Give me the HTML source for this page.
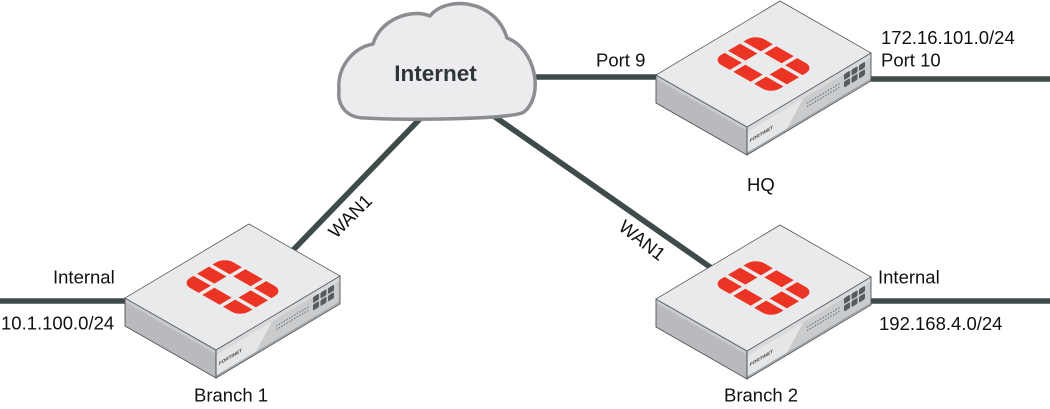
<!DOCTYPE html>
<html>
<head>
<meta charset="utf-8">
<style>
html,body{margin:0;padding:0;background:#fff;}
svg{display:block;}
text{font-family:"Liberation Sans",Arial,sans-serif;}
</style>
</head>
<body>
<svg width="1050" height="409" viewBox="0 0 1050 409" xmlns="http://www.w3.org/2000/svg">
<rect width="1050" height="409" fill="#ffffff"/>

<!-- connectors -->
<g stroke="#3e4b4a" stroke-width="5.6" fill="none" stroke-linecap="butt">
  <line x1="0" y1="301" x2="140" y2="301"/>
  <line x1="860" y1="301" x2="1050" y2="301"/>
  <line x1="860" y1="79" x2="1050" y2="79"/>
  <line x1="528" y1="77" x2="668" y2="77"/>
  <line x1="285" y1="258.5" x2="425" y2="113.6"/>
  <line x1="490" y1="113.4" x2="720" y2="274"/>
</g>

<!-- cloud -->
<path d="M 365,118 C 347,118 337,106 339,90 C 337,68 352,48 373,44 C 380,20 410,8 430,16 C 445,-4 495,-2 507,38 C 535,48 545,95 524,112 C 510,120 400,120 365,118 Z" fill="#ececee" stroke="#8b8e91" stroke-width="3.5" stroke-linejoin="round"/>
<text x="435.5" y="81" font-size="22.5" font-weight="bold" fill="#2d353a" text-anchor="middle">Internet</text>

<!-- Device: Branch 1 -->
<g transform="translate(125,298)">
  <polygon points="0,0 91,52 91,80 0,28" fill="#b8babd"/>
  <polygon points="0,0 91,52 91,56 0,4" fill="#c9cbcd"/>
  <g transform="matrix(1,-0.5968,0,1,91,52)">
    <rect x="0" y="0" width="124" height="28" fill="#c9cbcd"/>
    <rect x="0" y="0" width="124" height="5" fill="#d8d9db"/>
    <polygon points="0,5 56,5 38,28 0,28" fill="#e5e6e7"/>
    <rect x="0" y="25.5" width="124" height="2.5" fill="#a5a8ab"/>
    <text x="3" y="17" font-size="4.6" font-weight="bold" fill="#3a3d40">FORTINET</text>
    <line x1="60" y1="12" x2="93" y2="12" stroke="#6b6f73" stroke-width="1.2" stroke-dasharray="1.3 1.3"/>
    <line x1="60" y1="15.5" x2="93" y2="15.5" stroke="#6b6f73" stroke-width="1.2" stroke-dasharray="1.3 1.3"/>
    <g fill="#565b60">
      <rect x="97" y="5" width="6" height="6" rx="1.3"/>
      <rect x="104.5" y="5" width="6" height="6" rx="1.3"/>
      <rect x="112" y="5" width="6" height="6" rx="1.3"/>
      <rect x="97" y="12.5" width="6" height="6" rx="1.3"/>
      <rect x="104.5" y="12.5" width="6" height="6" rx="1.3"/>
      <rect x="112" y="12.5" width="6" height="6" rx="1.3"/>
    </g>
    <rect x="0" y="0" width="124" height="28" fill="none" stroke="#4d5154" stroke-width="0.9"/>
  </g>
  <polygon points="0,0 91,52 91,80 0,28" fill="none" stroke="#4d5154" stroke-width="0.9"/>
  <g transform="matrix(0.8667,0.4952,-0.8611,0.5139,124,-74)">
    <rect width="105" height="144" fill="#e9eaec" stroke="#55595c" stroke-width="0.9"/>
    <g fill="#ec3425">
      <path d="M 28.5,47 L 38.5,47 L 38.5,61 L 18.5,61 L 18.5,57 A 10 10 0 0 1 28.5,47 Z"/>
      <rect x="42.5" y="47" width="20" height="14"/>
      <path d="M 66.5,47 L 76.5,47 A 10 10 0 0 1 86.5,57 L 86.5,61 L 66.5,61 Z"/>
      <rect x="18.5" y="65" width="20" height="14"/>
      <rect x="66.5" y="65" width="20" height="14"/>
      <path d="M 18.5,83 L 38.5,83 L 38.5,97 L 28.5,97 A 10 10 0 0 1 18.5,87 Z"/>
      <rect x="42.5" y="83" width="20" height="14"/>
      <path d="M 66.5,83 L 86.5,83 L 86.5,87 A 10 10 0 0 1 76.5,97 L 66.5,97 Z"/>
    </g>
  </g>
</g>

<!-- Device: HQ -->
<g transform="translate(656,75)">
  <polygon points="0,0 91,52 91,80 0,28" fill="#b8babd"/>
  <polygon points="0,0 91,52 91,56 0,4" fill="#c9cbcd"/>
  <g transform="matrix(1,-0.5968,0,1,91,52)">
    <rect x="0" y="0" width="124" height="28" fill="#c9cbcd"/>
    <rect x="0" y="0" width="124" height="5" fill="#d8d9db"/>
    <polygon points="0,5 56,5 38,28 0,28" fill="#e5e6e7"/>
    <rect x="0" y="25.5" width="124" height="2.5" fill="#a5a8ab"/>
    <text x="3" y="17" font-size="4.6" font-weight="bold" fill="#3a3d40">FORTINET</text>
    <line x1="60" y1="12" x2="93" y2="12" stroke="#6b6f73" stroke-width="1.2" stroke-dasharray="1.3 1.3"/>
    <line x1="60" y1="15.5" x2="93" y2="15.5" stroke="#6b6f73" stroke-width="1.2" stroke-dasharray="1.3 1.3"/>
    <g fill="#565b60">
      <rect x="97" y="5" width="6" height="6" rx="1.3"/>
      <rect x="104.5" y="5" width="6" height="6" rx="1.3"/>
      <rect x="112" y="5" width="6" height="6" rx="1.3"/>
      <rect x="97" y="12.5" width="6" height="6" rx="1.3"/>
      <rect x="104.5" y="12.5" width="6" height="6" rx="1.3"/>
      <rect x="112" y="12.5" width="6" height="6" rx="1.3"/>
    </g>
    <rect x="0" y="0" width="124" height="28" fill="none" stroke="#4d5154" stroke-width="0.9"/>
  </g>
  <polygon points="0,0 91,52 91,80 0,28" fill="none" stroke="#4d5154" stroke-width="0.9"/>
  <g transform="matrix(0.8667,0.4952,-0.8611,0.5139,124,-74)">
    <rect width="105" height="144" fill="#e9eaec" stroke="#55595c" stroke-width="0.9"/>
    <g fill="#ec3425">
      <path d="M 28.5,47 L 38.5,47 L 38.5,61 L 18.5,61 L 18.5,57 A 10 10 0 0 1 28.5,47 Z"/>
      <rect x="42.5" y="47" width="20" height="14"/>
      <path d="M 66.5,47 L 76.5,47 A 10 10 0 0 1 86.5,57 L 86.5,61 L 66.5,61 Z"/>
      <rect x="18.5" y="65" width="20" height="14"/>
      <rect x="66.5" y="65" width="20" height="14"/>
      <path d="M 18.5,83 L 38.5,83 L 38.5,97 L 28.5,97 A 10 10 0 0 1 18.5,87 Z"/>
      <rect x="42.5" y="83" width="20" height="14"/>
      <path d="M 66.5,83 L 86.5,83 L 86.5,87 A 10 10 0 0 1 76.5,97 L 66.5,97 Z"/>
    </g>
  </g>
</g>

<!-- Device: Branch 2 -->
<g transform="translate(656,299)">
  <polygon points="0,0 91,52 91,80 0,28" fill="#b8babd"/>
  <polygon points="0,0 91,52 91,56 0,4" fill="#c9cbcd"/>
  <g transform="matrix(1,-0.5968,0,1,91,52)">
    <rect x="0" y="0" width="124" height="28" fill="#c9cbcd"/>
    <rect x="0" y="0" width="124" height="5" fill="#d8d9db"/>
    <polygon points="0,5 56,5 38,28 0,28" fill="#e5e6e7"/>
    <rect x="0" y="25.5" width="124" height="2.5" fill="#a5a8ab"/>
    <text x="3" y="17" font-size="4.6" font-weight="bold" fill="#3a3d40">FORTINET</text>
    <line x1="60" y1="12" x2="93" y2="12" stroke="#6b6f73" stroke-width="1.2" stroke-dasharray="1.3 1.3"/>
    <line x1="60" y1="15.5" x2="93" y2="15.5" stroke="#6b6f73" stroke-width="1.2" stroke-dasharray="1.3 1.3"/>
    <g fill="#565b60">
      <rect x="97" y="5" width="6" height="6" rx="1.3"/>
      <rect x="104.5" y="5" width="6" height="6" rx="1.3"/>
      <rect x="112" y="5" width="6" height="6" rx="1.3"/>
      <rect x="97" y="12.5" width="6" height="6" rx="1.3"/>
      <rect x="104.5" y="12.5" width="6" height="6" rx="1.3"/>
      <rect x="112" y="12.5" width="6" height="6" rx="1.3"/>
    </g>
    <rect x="0" y="0" width="124" height="28" fill="none" stroke="#4d5154" stroke-width="0.9"/>
  </g>
  <polygon points="0,0 91,52 91,80 0,28" fill="none" stroke="#4d5154" stroke-width="0.9"/>
  <g transform="matrix(0.8667,0.4952,-0.8611,0.5139,124,-74)">
    <rect width="105" height="144" fill="#e9eaec" stroke="#55595c" stroke-width="0.9"/>
    <g fill="#ec3425">
      <path d="M 28.5,47 L 38.5,47 L 38.5,61 L 18.5,61 L 18.5,57 A 10 10 0 0 1 28.5,47 Z"/>
      <rect x="42.5" y="47" width="20" height="14"/>
      <path d="M 66.5,47 L 76.5,47 A 10 10 0 0 1 86.5,57 L 86.5,61 L 66.5,61 Z"/>
      <rect x="18.5" y="65" width="20" height="14"/>
      <rect x="66.5" y="65" width="20" height="14"/>
      <path d="M 18.5,83 L 38.5,83 L 38.5,97 L 28.5,97 A 10 10 0 0 1 18.5,87 Z"/>
      <rect x="42.5" y="83" width="20" height="14"/>
      <path d="M 66.5,83 L 86.5,83 L 86.5,87 A 10 10 0 0 1 76.5,97 L 66.5,97 Z"/>
    </g>
  </g>
</g>

<!-- labels -->
<g font-size="18.5" fill="#111111">
  <text x="596" y="66.5">Port 9</text>
  <text x="881" y="44">172.16.101.0/24</text>
  <text x="881" y="66.7">Port 10</text>
  <text x="747" y="191">HQ</text>
  <text x="53" y="283.3">Internal</text>
  <text x="1" y="329.3">10.1.100.0/24</text>
  <text x="194" y="401.7">Branch 1</text>
  <text x="878" y="283.3">Internal</text>
  <text x="879" y="330">192.168.4.0/24</text>
  <text x="724" y="401.7">Branch 2</text>
  <text transform="translate(354.6,220.6) rotate(-45)" text-anchor="middle">WAN1</text>
  <text transform="translate(638.3,245.3) rotate(38)" text-anchor="middle">WAN1</text>
</g>
</svg>
</body>
</html>
